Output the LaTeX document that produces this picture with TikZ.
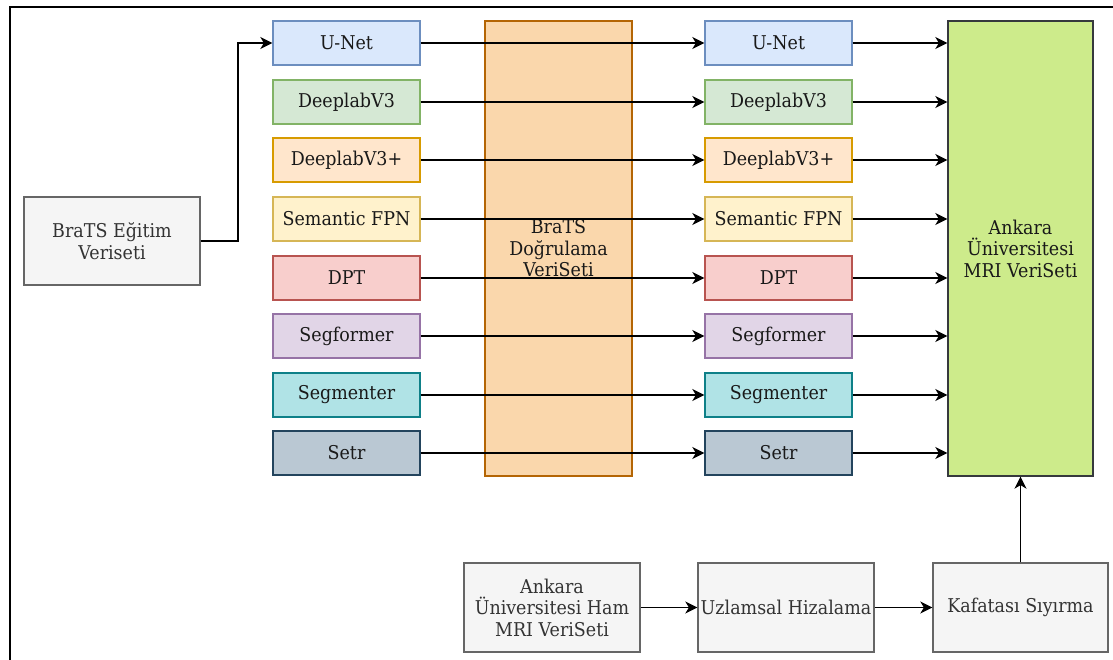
\documentclass[tikz,border=0pt]{standalone}
\usepackage{fontspec}
\setmainfont{DejaVu Serif}[FakeStretch=0.92]
\usetikzlibrary{arrows.meta}
\definecolor{unetF}{HTML}{DAE8FC}\definecolor{unetD}{HTML}{6C8EBF}
\definecolor{dlF}{HTML}{D5E8D4}\definecolor{dlD}{HTML}{82B366}
\definecolor{dlpF}{HTML}{FFE6CC}\definecolor{dlpD}{HTML}{D79B00}
\definecolor{fpnF}{HTML}{FFF2CC}\definecolor{fpnD}{HTML}{D6B656}
\definecolor{dptF}{HTML}{F8CECC}\definecolor{dptD}{HTML}{B85450}
\definecolor{sfF}{HTML}{E1D5E7}\definecolor{sfD}{HTML}{9673A6}
\definecolor{smF}{HTML}{B0E3E6}\definecolor{smD}{HTML}{0E8088}
\definecolor{stF}{HTML}{BAC8D3}\definecolor{stD}{HTML}{23445D}
\definecolor{orF}{HTML}{FAD7AC}\definecolor{orD}{HTML}{B46504}
\definecolor{grF}{HTML}{CDEB8B}\definecolor{grD}{HTML}{36393D}
\definecolor{gyF}{HTML}{F5F5F5}\definecolor{gyD}{HTML}{666666}
\definecolor{gyT}{HTML}{333333}
\begin{document}
\begin{tikzpicture}[x=1pt,y=-1pt,
  every node/.style={font=\fontsize{19}{21.5}\selectfont},
  box/.style={draw, line width=1.3pt, inner sep=0pt, align=center, text=black!90},
  model/.style={box, minimum width=147pt, minimum height=44pt},
  gbox/.style={box, fill=gyF, draw=gyD, text=gyT, minimum height=89pt},
  arr/.style={line width=1.8pt, -{Stealth[length=12pt,width=12pt,inset=3.5pt]}}]
\useasboundingbox (0,0) rectangle (1113,660);
\draw[line width=1.8pt] (10,660) -- (10,7) -- (1113,7);
% big columns
\node[box, fill=orF, draw=orD, minimum width=147pt, minimum height=455pt] (val) at (558.5,248.5) {BraTS\\Doğrulama\\VeriSeti};
\node[box, fill=grF, draw=grD, minimum width=145pt, minimum height=455pt] (ank) at (1020.5,248.5) {Ankara\\Üniversitesi\\MRI VeriSeti};
% training set
\node[gbox, minimum width=176pt, minimum height=88pt] (train) at (112,241) {BraTS Eğitim\\Veriseti};
% model columns
\foreach \i/\t/\f/\d/\yy in {1/U-Net/unetF/unetD/43, 2/DeeplabV3/dlF/dlD/102, 3/DeeplabV3+/dlpF/dlpD/160, 4/Semantic FPN/fpnF/fpnD/219, 5/DPT/dptF/dptD/278, 6/Segformer/sfF/sfD/336, 7/Segmenter/smF/smD/395, 8/Setr/stF/stD/453}{
  \node[model, fill=\f, draw=\d] (a\i) at (346.5,\yy) {\t};
  \node[model, fill=\f, draw=\d] (b\i) at (778.5,\yy) {\t};
}
% bottom row
\node[gbox, minimum width=176pt] (c1) at (552,607.5) {Ankara\\Üniversitesi Ham\\MRI VeriSeti};
\node[gbox, minimum width=176pt] (c2) at (786,607.5) {Uzlamsal Hizalama};
\node[gbox, minimum width=175pt] (c3) at (1020.5,607.5) {Kafatası Sıyırma};
% connectors
\draw[arr] (train.east) -- ++(37,0) |- (a1.west);
\foreach \i in {1,...,8}{
  \draw[arr] (a\i.east) -- (b\i.west);
  \draw[arr] (b\i.east) -- (ank.west |- b\i.east);
}
\draw[arr] (c1.east) -- (c2.west);
\draw[arr] (c2.east) -- (c3.west);
\draw[arr] (c3.north) -- (ank.south);
\end{tikzpicture}
\end{document}
